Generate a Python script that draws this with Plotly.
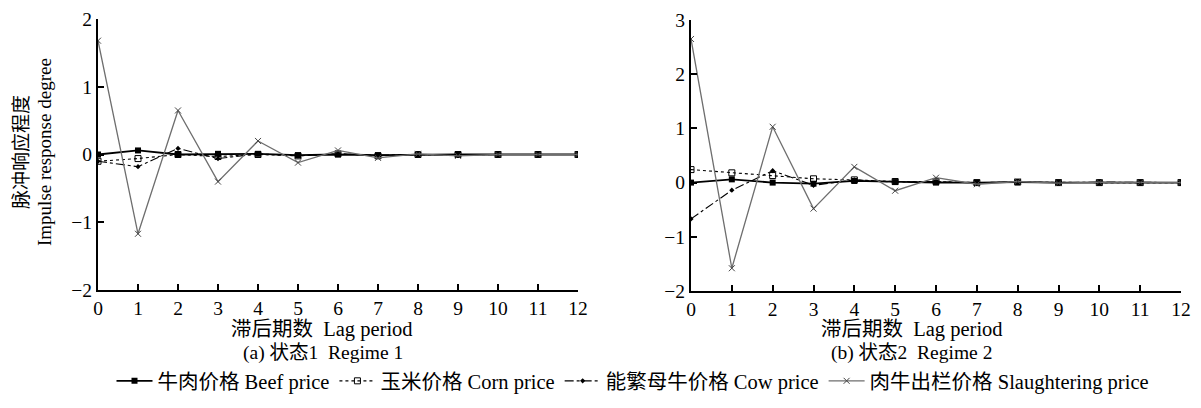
import plotly.graph_objects as go

lags = list(range(13))
tick_labels = [str(i) for i in lags]

series_names = ["牛肉价格 Beef price", "玉米价格 Corn price", "能繁母牛价格 Cow price", "肉牛出栏价格 Slaughtering price"]

# Regime 1
r1_beef = [0.0, 0.06, 0.0, 0.01, 0.01, -0.01, 0.0, -0.01, 0.0, 0.0, 0.0, 0.0, 0.0]
r1_corn = [-0.1, -0.06, 0.0, -0.03, 0.0, -0.02, 0.01, -0.02, 0.0, 0.0, 0.0, 0.0, 0.0]
r1_cow = [-0.1, -0.18, 0.09, -0.06, 0.01, -0.02, 0.01, -0.01, 0.0, -0.01, 0.0, 0.0, 0.0]
r1_slaughter = [1.68, -1.17, 0.65, -0.4, 0.2, -0.12, 0.06, -0.05, 0.01, -0.02, 0.0, 0.0, 0.0]

# Regime 2
r2_beef = [0.0, 0.06, 0.0, -0.02, 0.03, 0.01, 0.0, 0.0, 0.01, 0.0, 0.0, 0.0, 0.0]
r2_corn = [0.24, 0.18, 0.13, 0.07, 0.05, 0.02, 0.02, 0.0, 0.01, 0.0, 0.0, 0.0, 0.0]
r2_cow = [-0.67, -0.14, 0.22, -0.05, 0.05, 0.01, 0.02, -0.01, 0.02, 0.0, 0.01, 0.0, 0.0]
r2_slaughter = [2.65, -1.58, 1.03, -0.48, 0.29, -0.15, 0.09, -0.03, 0.02, -0.01, 0.01, 0.0, 0.0]

FONT = "Liberation Serif, Noto Sans CJK SC, serif"

styles = [
    dict(line=dict(color="black", width=1.8, dash="solid"),
         marker=dict(symbol="square", size=6, color="black")),
    dict(line=dict(color="black", width=1.1, dash="dot"),
         marker=dict(symbol="square-open", size=6, color="black")),
    dict(line=dict(color="black", width=1.1, dash="dashdot"),
         marker=dict(symbol="diamond", size=4, color="black")),
    dict(line=dict(color="#6e6e6e", width=1.3, dash="solid"),
         marker=dict(symbol="x-thin", size=6, color="#444444", line=dict(width=1, color="#444444"))),
]

fig = go.Figure()
for i, data in enumerate([r1_beef, r1_corn, r1_cow, r1_slaughter]):
    fig.add_trace(go.Scatter(x=lags, y=data, mode="lines+markers", name=series_names[i],
                             xaxis="x", yaxis="y", legendgroup=str(i), showlegend=True, **styles[i]))
for i, data in enumerate([r2_beef, r2_corn, r2_cow, r2_slaughter]):
    fig.add_trace(go.Scatter(x=lags, y=data, mode="lines+markers", name=series_names[i],
                             xaxis="x2", yaxis="y2", legendgroup=str(i), showlegend=False, **styles[i]))

W, H = 1201, 408
OFF = 8  # page body margin offset


def px(p):
    return (p - OFF) / W


def py(p):
    return 1 - (p - OFF) / H


ax_common = dict(showline=True, linecolor="black", linewidth=2, ticks="inside", ticklen=6,
                 tickcolor="black", tickwidth=1.5, showgrid=False, zeroline=False, automargin=False,
                 ticklabeloverflow="allow",
                 tickfont=dict(family=FONT, size=19.5, color="black"))

fig.update_layout(
    width=W, height=H,
    margin=dict(l=0, r=0, t=0, b=0, pad=0, autoexpand=False),
    paper_bgcolor="white", plot_bgcolor="white",
    font=dict(family=FONT, color="black"),
    xaxis=dict(domain=[px(98), px(578)], range=[0, 12], tickvals=lags, ticktext=tick_labels,
               anchor="y", **ax_common),
    yaxis=dict(domain=[py(290), py(19)], range=[-2, 2], tickvals=[-2, -1, 0, 1, 2],
               ticktext=["−2", "−1", "0", "1", "2"], anchor="x", **ax_common),
    xaxis2=dict(domain=[px(691), px(1181)], range=[0, 12], tickvals=lags, ticktext=tick_labels,
                anchor="y2", **ax_common),
    yaxis2=dict(domain=[py(291), py(20)], range=[-2, 3], tickvals=[-2, -1, 0, 1, 2, 3],
                ticktext=["−2", "−1", "0", "1", "2", "3"], anchor="x2", **ax_common),
    legend=dict(orientation="h", x=px(633), xanchor="center", y=py(381), yanchor="middle",
                font=dict(family=FONT, size=20.5, color="black"), itemwidth=36,
                bgcolor="rgba(0,0,0,0)", tracegroupgap=0),
    showlegend=True,
)

ann = [
    dict(text="脉冲响应程度", x=px(21), y=py(152), textangle=-90, font=dict(size=19)),
    dict(text="Impulse response degree", x=px(44), y=py(152), textangle=-90, font=dict(size=19)),
    dict(text="滞后期数  Lag period", x=px(322), y=py(329), font=dict(size=20.5)),
    dict(text="(a) 状态1  Regime 1", x=px(323), y=py(353), font=dict(size=19.5)),
    dict(text="滞后期数  Lag period", x=px(912), y=py(329), font=dict(size=20.5)),
    dict(text="(b) 状态2  Regime 2", x=px(911), y=py(353), font=dict(size=19.5)),
]
for a in ann:
    fig.add_annotation(xref="paper", yref="paper", showarrow=False, xanchor="center", yanchor="middle",
                       **a)

fig.write_html("out.html")
